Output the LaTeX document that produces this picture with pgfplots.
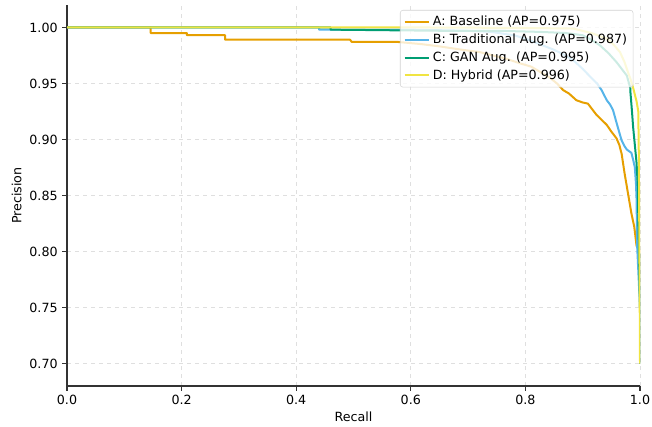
\documentclass[border=0pt]{standalone}
\usepackage{fontspec}
\setmainfont{DejaVu Sans}
\usepackage{pgfplots}
\pgfplotsset{compat=1.18}
\definecolor{cA}{HTML}{E69F00}
\definecolor{cB}{HTML}{56B4E9}
\definecolor{cC}{HTML}{009E73}
\definecolor{cD}{HTML}{F0E442}
\begin{document}
\begin{tikzpicture}
\begin{axis}[
  scale only axis,
  width=429.75pt, height=285.75pt,
  xmin=0, xmax=1, ymin=0.68, ymax=1.02,
  axis x line*=bottom, axis y line*=left,
  axis line style={black!80, line width=0.8pt},
  xtick={0,0.2,0.4,0.6,0.8,1.0},
  ytick={0.70,0.75,0.80,0.85,0.90,0.95,1.00},
  xticklabel style={/pgf/number format/.cd, fixed, fixed zerofill, precision=1},
  yticklabel style={/pgf/number format/.cd, fixed, fixed zerofill, precision=2},
  /pgf/number format/assume math mode=true,
  tick align=outside, major tick length=3.5pt,
  tick style={black!80, line width=0.8pt},
  grid=major,
  grid style={dashed, gray!25, line width=0.5pt},
  tick label style={font=\fontsize{9.5}{11}\selectfont},
  label style={font=\fontsize{9.5}{11}\selectfont},
  xlabel={Recall}, ylabel={Precision},
  xlabel style={yshift=2pt},
  ylabel style={yshift=-1pt},
  legend cell align=left,
  legend style={at={(rel axis cs:1,1)}, anchor=north east, xshift=-5pt, yshift=-3.75pt,
    font=\fontsize{9.5}{11}\selectfont, draw=gray!35, fill=white, fill opacity=0.8, text opacity=1,
    rounded corners=2pt, row sep=0.6pt, inner sep=2.5pt},
  legend image code/.code={\draw[#1, line width=1.5pt] (0cm,0cm) -- (0.65cm,0cm);},
  every axis plot/.append style={line width=1.5pt, line join=round},
]
\addplot[cA] coordinates {
(0,1.0) (0.146,1.0) (0.146,0.995) (0.209,0.995) (0.209,0.993) (0.276,0.993) (0.276,0.989)
(0.494,0.989) (0.497,0.987) (0.578,0.987) (0.62,0.985) (0.651,0.983) (0.69,0.980) (0.72,0.978)
(0.767,0.972) (0.79,0.968) (0.81,0.965) (0.83,0.959) (0.843,0.955) (0.855,0.950) (0.866,0.944)
(0.876,0.941) (0.889,0.935) (0.900,0.933) (0.909,0.932) (0.915,0.928) (0.924,0.922) (0.932,0.918)
(0.942,0.913) (0.950,0.907) (0.959,0.901) (0.964,0.895) (0.968,0.887) (0.973,0.870) (0.977,0.858)
(0.981,0.846) (0.985,0.834) (0.990,0.822) (0.994,0.805) (1.0,0.80) (1.0,0.70)
};
\addlegendentry{A: Baseline (AP=0.975)}
\addplot[cB] coordinates {
(0,1.0) (0.44,1.0) (0.44,0.998) (0.60,0.998) (0.70,0.997) (0.74,0.996) (0.78,0.993) (0.80,0.990)
(0.83,0.984) (0.85,0.980) (0.87,0.975) (0.885,0.970) (0.90,0.963) (0.915,0.955) (0.925,0.950)
(0.933,0.944) (0.942,0.935) (0.948,0.931) (0.953,0.926) (0.959,0.915) (0.964,0.906) (0.968,0.899)
(0.973,0.894) (0.977,0.891) (0.985,0.888) (0.988,0.882) (0.991,0.875) (0.993,0.860) (0.994,0.846)
(0.995,0.805) (1.0,0.75) (1.0,0.70)
};
\addlegendentry{B: Traditional Aug. (AP=0.987)}
\addplot[cC] coordinates {
(0,1.0) (0.46,1.0) (0.46,0.998) (0.651,0.997) (0.75,0.997) (0.825,0.996) (0.87,0.995) (0.90,0.993)
(0.915,0.989) (0.930,0.984) (0.945,0.977) (0.959,0.969) (0.968,0.963) (0.977,0.957) (0.983,0.946)
(0.983,0.944) (0.986,0.925) (0.988,0.911) (0.991,0.895) (0.994,0.879) (0.996,0.860) (1.0,0.75) (1.0,0.70)
};
\addlegendentry{C: GAN Aug. (AP=0.995)}
\addplot[cD] coordinates {
(0,1.0) (0.60,1.0) (0.80,0.9995) (0.883,0.999) (0.915,0.995) (0.942,0.990) (0.955,0.984)
(0.965,0.978) (0.973,0.969) (0.979,0.960) (0.984,0.953) (0.988,0.946) (0.994,0.934) (0.997,0.925)
(0.998,0.882) (0.999,0.80) (1.0,0.70)
};
\addlegendentry{D: Hybrid (AP=0.996)}
\coordinate (SW) at (rel axis cs:0,0);
\coordinate (NE) at (rel axis cs:1,1);
\end{axis}
\pgfresetboundingbox
\path ([xshift=-50.25pt,yshift=-30.75pt]SW) rectangle ([xshift=9pt,yshift=3.75pt]NE);
\end{tikzpicture}
\end{document}
